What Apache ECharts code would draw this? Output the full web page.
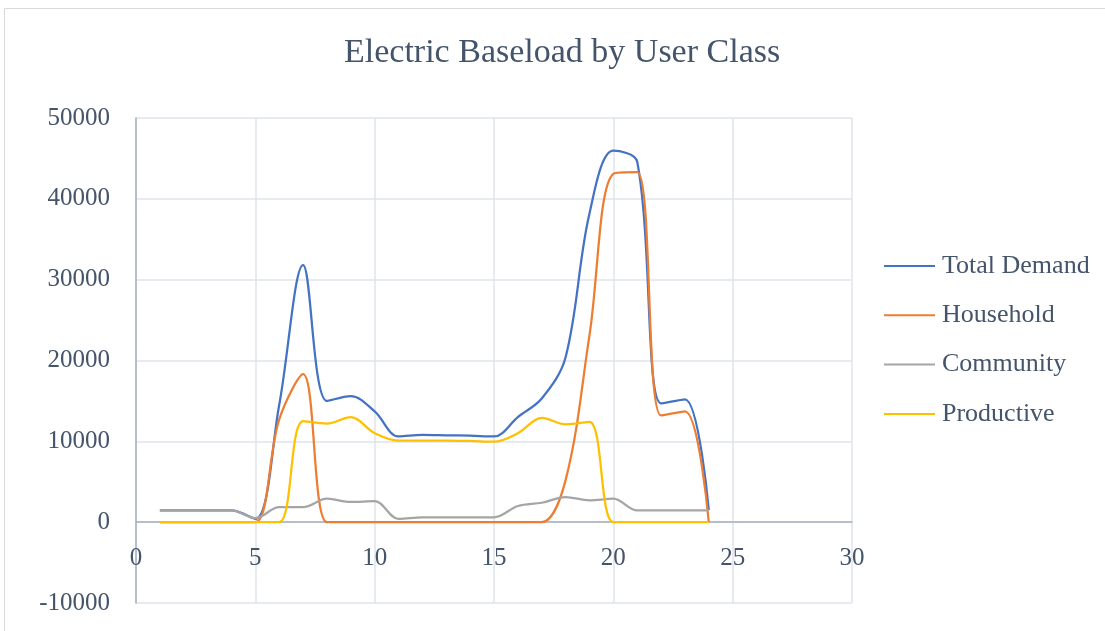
<!DOCTYPE html>
<html>
<head>
<meta charset="utf-8">
<script src="https://cdn.jsdelivr.net/npm/echarts@6/dist/echarts.min.js"></script>
<style>
  html, body { margin: 0; padding: 0; background: #ffffff; }
  #chart { width: 1105px; height: 631px; }
</style>
</head>
<body>
<div id="chart"></div>
<script>
// Hourly electric load (W) per user class, hours 1..24
const hours = [1, 2, 3, 4, 5, 6, 7, 8, 9, 10, 11, 12, 13, 14, 15, 16, 17, 18, 19, 20, 21, 22, 23, 24];
const totalDemand = [1450, 1450, 1450, 1450, 400, 14500, 31800, 15000, 15600, 13700, 10600, 10800, 10750, 10700, 10600, 13000, 15300, 20400, 38200, 45950, 44600, 14700, 15200, 1500];
const household   = [0, 0, 0, 0, 0, 12700, 18300, 0, 0, 0, 0, 0, 0, 0, 0, 0, 0, 5200, 23100, 43100, 43300, 13200, 13700, 0];
const community   = [1450, 1450, 1450, 1450, 500, 1850, 1850, 2900, 2500, 2600, 400, 600, 600, 600, 600, 2000, 2400, 3100, 2700, 2900, 1450, 1450, 1450, 1450];
const productive  = [0, 0, 0, 0, 0, 0, 12500, 12200, 13000, 11000, 10100, 10100, 10100, 10050, 9950, 11000, 12900, 12100, 12400, 0, 0, 0, 0, 0];

// Axis ranges
const xMin = 0, xMax = 30, xStep = 5;
const yMin = -10000, yMax = 50000, yStep = 10000;

const seriesNames = ['Total Demand', 'Household', 'Community', 'Productive'];
const seriesColors = ['#4472c4', '#ed7d31', '#a5a5a5', '#ffc000'];
const seriesValues = [totalDemand, household, community, productive];

const textColor = '#44546a';
const fontFamily = '"Liberation Serif", "DejaVu Serif", serif';

// Plot area in pixels
const gridTop = 118, gridBottom = 28, gridLeft = 136, gridRight = 253;
const plotHeight = 631 - gridTop - gridBottom;
// Lift the x axis so it sits on the zero line
const zeroOffset = -plotHeight * (0 - yMin) / (yMax - yMin);

const chart = echarts.init(document.getElementById('chart'), null, { renderer: 'canvas' });

chart.setOption({
  animation: false,
  backgroundColor: '#ffffff',
  textStyle: { fontFamily: fontFamily, color: textColor },
  graphic: [{
    type: 'rect',
    shape: { x: 4.5, y: 8.5, width: 1120, height: 640 },
    style: { fill: 'none', stroke: '#d9d9d9', lineWidth: 1 },
    silent: true,
    z: -10
  }],
  title: {
    text: 'Electric Baseload by User Class',
    left: 339,
    top: 31,
    textStyle: { fontFamily: fontFamily, fontSize: 34, fontWeight: 'normal', color: textColor }
  },
  legend: {
    orient: 'vertical',
    left: 879,
    top: 248,
    icon: 'rect',
    itemWidth: 51,
    itemHeight: 2,
    itemGap: 23.3,
    textStyle: { fontFamily: fontFamily, fontSize: 26, color: textColor, lineHeight: 26, padding: [0, 0, 0, 2] },
    data: seriesNames
  },
  grid: { left: gridLeft, right: gridRight, top: gridTop, bottom: gridBottom, containLabel: false, outerBoundsMode: 'none' },
  xAxis: {
    type: 'value',
    min: xMin, max: xMax, interval: xStep,
    offset: zeroOffset,
    axisLine: { onZero: false, lineStyle: { color: '#a6b0c0', width: 1.5 } },
    axisTick: { show: false },
    axisLabel: { margin: 24, fontFamily: fontFamily, fontSize: 25, color: textColor, formatter: v => String(v) },
    splitLine: { show: true, lineStyle: { color: '#dfe3ea', width: 1.5 } }
  },
  yAxis: {
    type: 'value',
    min: yMin, max: yMax, interval: yStep,
    axisLine: { show: true, lineStyle: { color: '#a6b0c0', width: 1.5 } },
    axisTick: { show: false },
    axisLabel: { margin: 26, fontFamily: fontFamily, fontSize: 25, color: textColor, formatter: v => String(v) },
    splitLine: { show: true, lineStyle: { color: '#dfe3ea', width: 1.5 } }
  },
  series: seriesNames.map((name, i) => ({
    name: name,
    type: 'line',
    smooth: 0.35,
    showSymbol: false,
    symbol: 'none',
    data: hours.map((h, k) => [h, seriesValues[i][k]]),
    lineStyle: { color: seriesColors[i], width: 2.25 },
    itemStyle: { color: seriesColors[i] }
  }))
});
</script>
</body>
</html>
